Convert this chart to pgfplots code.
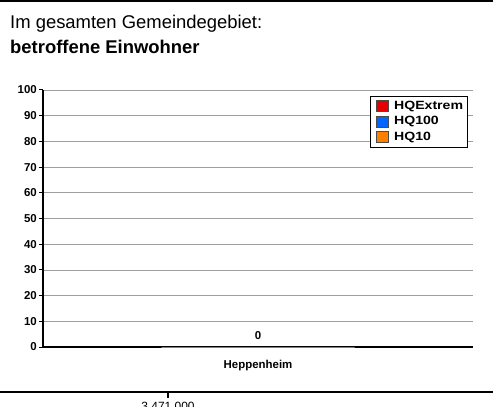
\documentclass[border=0pt]{standalone}
\usepackage{pgfplots}
\pgfplotsset{compat=1.18}
\usepackage{fontspec}
\setmainfont{Liberation Sans}
\newfontfamily\legfont{Liberation Sans}[FakeStretch=1.18]
\definecolor{hqred}{RGB}{230,0,0}
\definecolor{hqblue}{RGB}{0,102,255}
\definecolor{hqorange}{RGB}{255,128,0}
\begin{document}
\begin{tikzpicture}[x=1bp,y=1bp]
\fill[white] (0,0) rectangle (493,406);
\draw[line width=2bp] (0,405) -- (493,405);
\node[anchor=base west, inner sep=0pt, font=\fontsize{18.5}{20}\selectfont] at (10,378) {Im gesamten Gemeindegebiet:};
\node[anchor=base west, inner sep=0pt, font=\fontsize{18.5}{20}\selectfont\bfseries] at (10,353) {betroffene Einwohner};
\draw[line width=2bp] (0,14) -- (493,14);
\draw[line width=1.5bp] (168,14) -- (168,8);
\begin{scope}
\clip (0,0) rectangle (493,406);
\node[anchor=north, inner sep=0pt, font=\fontsize{12}{14}\selectfont] at (168,4) {3.471.000};
\end{scope}
\begin{axis}[
  at={(43bp,59bp)}, anchor=south west,
  scale only axis, width=430bp, height=257bp,
  xmin=-1, xmax=1, ymin=0, ymax=100,
  ytick={0,10,...,100},
  xtick={0}, xticklabels={Heppenheim},
  ymajorgrids, grid style={gray!75, line width=0.8bp},
  extra y ticks={0}, extra y tick labels={},
  extra y tick style={grid=major, grid style={black, line width=1.2bp}},
  x axis line style={draw=none},
  y axis line style={gray!80!black, line width=1bp},
  tick align=outside, ytick pos=left, xtick pos=bottom,
  major tick length=4bp,
  ytick style={black, line width=1bp},
  xtick style={draw=none},
  /pgf/number format/assume math mode=true,
  yticklabel style={font=\fontsize{11.5}{13}\selectfont\bfseries, inner sep=2bp},
  xticklabel style={font=\fontsize{11.5}{13}\selectfont\bfseries, yshift=-6bp},
  legend style={at={(1,1)}, anchor=north east, xshift=-5bp, yshift=-6bp,
    draw=black, fill=white, line width=0.8bp, font=\legfont\fontsize{12}{14}\selectfont\bfseries,
    inner xsep=2.5bp, inner ysep=2bp, row sep=0bp, column sep=4bp,
    nodes={inner sep=2bp, text height=9bp, text depth=2.5bp}},
  legend cell align=left,
  legend image code/.code={\path[draw=none, fill=none] (0bp,0bp) -- (3bp,0bp); \draw[#1, draw=black!70, line width=0.6bp] (3bp,-5.5bp) rectangle (15bp,5.5bp);},
  after end axis/.code={
    \draw[black, line width=1.6bp] (rel axis cs:0,0) -- (rel axis cs:0,1);
  },
]
\addplot[ybar, bar width=193bp, fill=hqred, draw=hqred] coordinates {(0,0)};
\addplot[ybar, bar width=193bp, fill=hqblue, draw=hqblue] coordinates {(0,0)};
\addplot[ybar, bar width=193bp, fill=hqorange, draw=hqorange, line width=1bp,
  nodes near coords, every node near coord/.append style={font=\fontsize{11.5}{13}\selectfont\bfseries, yshift=4bp}] coordinates {(0,0)};
\legend{HQExtrem,HQ100,HQ10}
\end{axis}
\pgfresetboundingbox
\useasboundingbox (0,0) rectangle (493,406);
\end{tikzpicture}
\end{document}
